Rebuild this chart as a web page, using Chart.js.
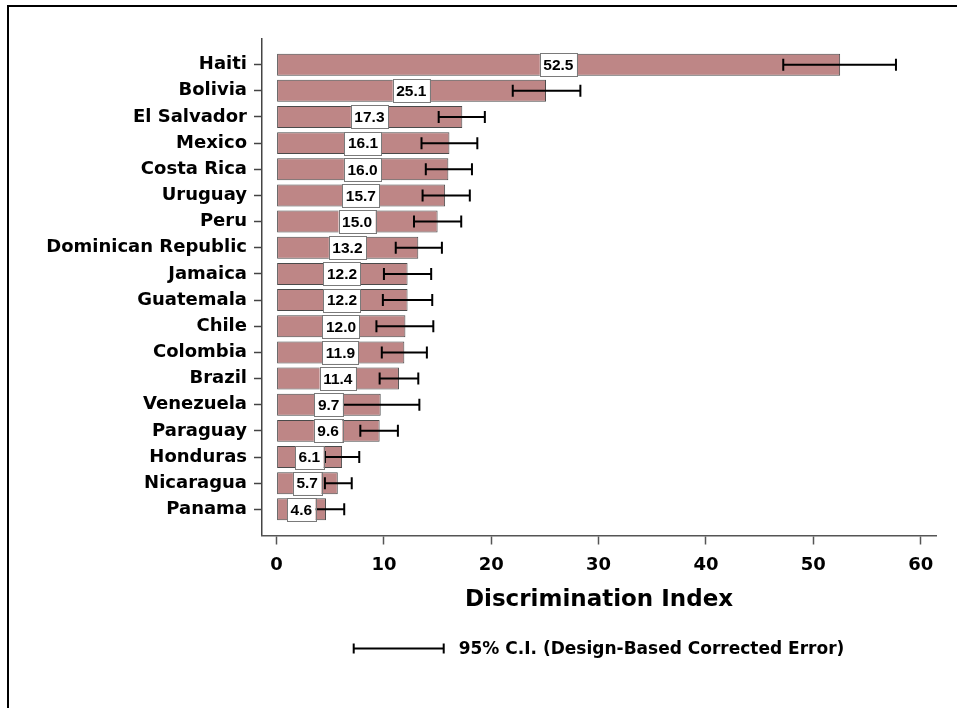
<!DOCTYPE html>
<html>
<head>
<meta charset="utf-8">
<title>Discrimination Index</title>
<script src="https://cdn.jsdelivr.net/npm/chart.js@4.4.0/dist/chart.umd.min.js"></script>
<style>
    html, body { margin: 0; padding: 0; background: #fff; }
    #wrap { position: relative; width: 957px; height: 708px; overflow: hidden; }
    #frame { position: absolute; left: 7px; top: 5px; width: 1200px; height: 1200px;
             border-left: 2.5px solid #000; border-top: 2.5px solid #000; }
    #discChart { position: absolute; left: 0; top: 0; }
</style>
</head>
<body>
<div id="wrap">
    <div id="frame"></div>
    <canvas id="discChart"></canvas>
</div>
<script>
// ==========================================
// DATA
// ==========================================
const countries = ['Haiti', 'Bolivia', 'El Salvador', 'Mexico', 'Costa Rica', 'Uruguay', 'Peru',
    'Dominican Republic', 'Jamaica', 'Guatemala', 'Chile', 'Colombia', 'Brazil', 'Venezuela',
    'Paraguay', 'Honduras', 'Nicaragua', 'Panama'];
const indexValues = [52.5, 25.1, 17.3, 16.1, 16.0, 15.7, 15.0, 13.2, 12.2, 12.2, 12.0, 11.9, 11.4, 9.7, 9.6, 6.1, 5.7, 4.6];
const ciLower = [47.2, 22.0, 15.1, 13.5, 13.9, 13.6, 12.8, 11.1, 10.0, 9.9, 9.3, 9.8, 9.6, 6.1, 7.8, 4.5, 4.5, 3.0];
const ciUpper = [57.7, 28.3, 19.4, 18.7, 18.2, 18.0, 17.2, 15.4, 14.4, 14.5, 14.6, 14.0, 13.2, 13.3, 11.3, 7.7, 7.0, 6.3];
const xTickValues = [0, 10, 20, 30, 40, 50, 60];
const axisTitle = 'Discrimination Index';
const legendText = '95% C.I. (Design-Based Corrected Error)';

const FONT = '"DejaVu Sans", "Liberation Sans", Arial, sans-serif';
Chart.defaults.font.family = FONT;
Chart.defaults.color = '#000';

// ==========================================
// ERROR BARS + VALUE BOXES
// ==========================================
const errorBarPlugin = {
    id: 'errorBars',
    afterDatasetsDraw(chart) {
        const ctx = chart.ctx;
        const x = chart.scales.x;
        const meta = chart.getDatasetMeta(0);
        ctx.save();

        ctx.strokeStyle = '#000';
        ctx.lineWidth = 2;
        meta.data.forEach((bar, i) => {
            const x1 = x.getPixelForValue(ciLower[i]);
            const x2 = x.getPixelForValue(ciUpper[i]);
            ctx.beginPath();
            ctx.moveTo(x1, bar.y); ctx.lineTo(x2, bar.y);
            ctx.moveTo(x1, bar.y - 6); ctx.lineTo(x1, bar.y + 6);
            ctx.moveTo(x2, bar.y - 6); ctx.lineTo(x2, bar.y + 6);
            ctx.stroke();
        });

        ctx.font = 'bold 15.5px "Liberation Sans", Arial, sans-serif';
        ctx.textAlign = 'center';
        ctx.textBaseline = 'middle';
        meta.data.forEach((bar, i) => {
            const label = indexValues[i].toFixed(1);
            const cx = x.getPixelForValue(indexValues[i] / 2);
            const w = ctx.measureText(label).width + 7;
            const h = 23;
            ctx.fillStyle = '#fff';
            ctx.fillRect(cx - w / 2, bar.y - h / 2, w, h);
            ctx.strokeStyle = '#7a7a7a';
            ctx.lineWidth = 1;
            ctx.strokeRect(Math.round(cx - w / 2) + 0.5, Math.round(bar.y - h / 2) + 0.5, Math.round(w), h);
            ctx.fillStyle = '#000';
            ctx.fillText(label, cx, bar.y + 1);
        });
        ctx.restore();
    }
};

// ==========================================
// C.I. LEGEND (centred under the plot area)
// ==========================================
const ciLegendPlugin = {
    id: 'ciLegend',
    afterDraw(chart) {
        const ctx = chart.ctx;
        const area = chart.chartArea;
        ctx.save();
        ctx.font = 'bold 17px ' + FONT;
        const textW = ctx.measureText(legendText).width;
        const symW = 90, gap = 15;
        const left = (area.left + area.right) / 2 - (symW + gap + textW) / 2;
        const y = chart.scales.x.bottom + 23;

        ctx.strokeStyle = '#000';
        ctx.lineWidth = 2;
        ctx.beginPath();
        ctx.moveTo(left, y); ctx.lineTo(left + symW, y);
        ctx.moveTo(left, y - 5); ctx.lineTo(left, y + 5);
        ctx.moveTo(left + symW, y - 5); ctx.lineTo(left + symW, y + 5);
        ctx.stroke();

        ctx.fillStyle = '#000';
        ctx.textAlign = 'left';
        ctx.textBaseline = 'middle';
        ctx.fillText(legendText, left + symW + gap, y + 1);
        ctx.restore();
    }
};

// ==========================================
// CHART
// ==========================================
function initDiscriminationChart() {
    const ctx = document.getElementById('discChart');
    if (!ctx) return;

    new Chart(ctx, {
        type: 'bar',
        data: {
            datasets: [{
                data: indexValues.map((v, i) => ({ x: v, y: i })),
                backgroundColor: 'rgb(190, 134, 134)',
                borderColor: '#4a4a4a',
                borderWidth: 1,
                borderSkipped: false,
                barPercentage: 0.84,
                categoryPercentage: 1
            }]
        },
        options: {
            indexAxis: 'y',
            responsive: false,
            animation: false,
            layout: {
                padding: { top: 38.5, right: 21, bottom: 82.5, left: 0 }
            },
            plugins: {
                legend: { display: false },
                tooltip: { enabled: false }
            },
            scales: {
                y: {
                    type: 'linear',
                    min: -1,
                    max: countries.length,
                    reverse: true,
                    offset: false,
                    afterBuildTicks: (scale) => {
                        scale.ticks = countries.map((c, i) => ({ value: i }));
                    },
                    afterFit: (scale) => { scale.width = 262; },
                    ticks: {
                        autoSkip: false,
                        padding: 7,
                        color: '#000',
                        font: { size: 18, weight: 'bold' },
                        callback: (value) => countries[value]
                    },
                    grid: {
                        offset: false,
                        drawOnChartArea: false,
                        tickLength: 8,
                        tickColor: '#444',
                        tickWidth: 1.5
                    },
                    border: { color: '#444', width: 1.5 }
                },
                x: {
                    type: 'linear',
                    min: -1.36,
                    max: 61.43,
                    afterBuildTicks: (scale) => {
                        scale.ticks = xTickValues.map(v => ({ value: v }));
                    },
                    afterFit: (scale) => { scale.height = 90; },
                    ticks: {
                        padding: 10,
                        color: '#000',
                        font: { size: 18, weight: 'bold' }
                    },
                    grid: {
                        drawOnChartArea: false,
                        tickLength: 9,
                        tickColor: '#555',
                        tickWidth: 1.5
                    },
                    border: { color: '#555', width: 1.5 },
                    title: {
                        display: true,
                        text: axisTitle,
                        color: '#000',
                        font: { size: 23, weight: 'bold' },
                        padding: { top: 8, bottom: 12 }
                    }
                }
            }
        },
        plugins: [errorBarPlugin, ciLegendPlugin]
    });
}

const canvas = document.getElementById('discChart');
canvas.width = 957;
canvas.height = 708;
initDiscriminationChart();
</script>
</body>
</html>
